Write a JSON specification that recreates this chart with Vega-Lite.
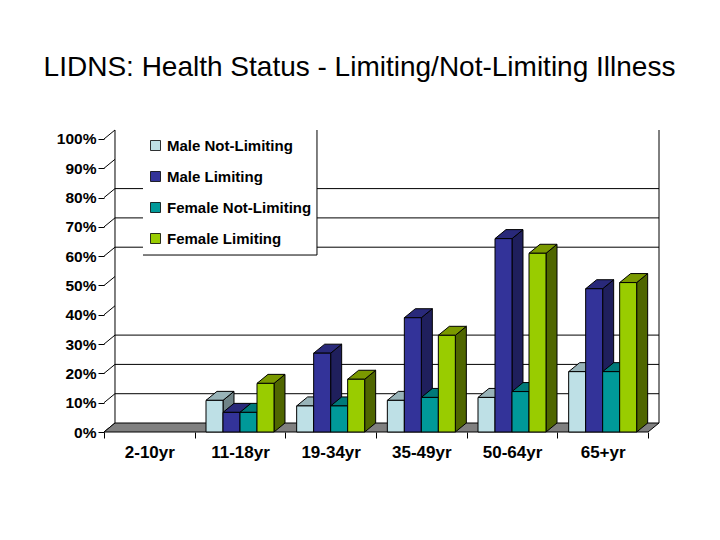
{
  "$schema": "https://vega.github.io/schema/vega-lite/v6.json",
  "width": 555,
  "height": 302,
  "autosize": "none",
  "padding": {"left": 104, "top": 130, "right": 61, "bottom": 108},
  "background": "white",
  "title": {"text": "LIDNS: Health Status - Limiting/Not-Limiting Illness", "font": "Liberation Sans", "fontSize": 28, "fontWeight": "normal", "color": "black", "anchor": "middle", "dx": -22, "offset": 48},
  "config": {"view": {"stroke": null}, "axis": {"labelOverlap": false, "labelBound": false}},
  "datasets": {
    "bars": [
      {"age": "2-10yr", "series": "Male Not-Limiting", "value": null},
      {"age": "2-10yr", "series": "Male Limiting", "value": null},
      {"age": "2-10yr", "series": "Female Not-Limiting", "value": null},
      {"age": "2-10yr", "series": "Female Limiting", "value": null},
      {"age": "11-18yr", "series": "Male Not-Limiting", "value": 10.8},
      {"age": "11-18yr", "series": "Male Limiting", "value": 6.7},
      {"age": "11-18yr", "series": "Female Not-Limiting", "value": 6.7},
      {"age": "11-18yr", "series": "Female Limiting", "value": 16.6},
      {"age": "19-34yr", "series": "Male Not-Limiting", "value": 8.9},
      {"age": "19-34yr", "series": "Male Limiting", "value": 26.9},
      {"age": "19-34yr", "series": "Female Not-Limiting", "value": 8.9},
      {"age": "19-34yr", "series": "Female Limiting", "value": 18},
      {"age": "35-49yr", "series": "Male Not-Limiting", "value": 10.8},
      {"age": "35-49yr", "series": "Male Limiting", "value": 39},
      {"age": "35-49yr", "series": "Female Not-Limiting", "value": 11.8},
      {"age": "35-49yr", "series": "Female Limiting", "value": 33},
      {"age": "50-64yr", "series": "Male Not-Limiting", "value": 11.8},
      {"age": "50-64yr", "series": "Male Limiting", "value": 66},
      {"age": "50-64yr", "series": "Female Not-Limiting", "value": 13.8},
      {"age": "50-64yr", "series": "Female Limiting", "value": 61},
      {"age": "65+yr", "series": "Male Not-Limiting", "value": 20.6},
      {"age": "65+yr", "series": "Male Limiting", "value": 48.9},
      {"age": "65+yr", "series": "Female Not-Limiting", "value": 20.6},
      {"age": "65+yr", "series": "Female Limiting", "value": 51}
    ],
    "levels": [
      {"v": 0}, {"v": 10}, {"v": 20}, {"v": 30}, {"v": 40}, {"v": 50},
      {"v": 60}, {"v": 70}, {"v": 80}, {"v": 90}, {"v": 100}
    ]
  },
  "layer": [
    {
      "data": {"name": "levels"},
      "mark": {"type": "rule", "color": "black", "strokeWidth": 1},
      "transform": [{"filter": "indexof([10,20,30,60,70,80], datum.v) >= 0"}, {"calculate": "datum.v + 3.07", "as": "back"}],
      "encoding": {
        "x": {"datum": 0.1213, "type": "quantitative", "scale": {"domain": [0, 6.1213], "nice": false, "zero": false},
          "axis": {"values": [0, 0.5, 1, 1.5, 2, 2.5, 3, 3.5, 4, 4.5, 5, 5.5, 6], "tickCount": 20, "title": null, "domain": false, "grid": false,
            "tickColor": "black", "tickSize": {"condition": {"test": "datum.value % 1 == 0", "value": 6}, "value": 0},
            "labelExpr": "datum.value % 1 == 0 ? '' : ['2-10yr','11-18yr','19-34yr','35-49yr','50-64yr','65+yr'][floor(datum.value)]",
            "labelFont": "Liberation Sans", "labelFontWeight": "bold", "labelFontSize": 17, "labelColor": "black", "labelAngle": 0, "labelPadding": 12, "labelFlush": false}},
        "x2": {"datum": 6.1213},
        "y": {"field": "back", "type": "quantitative", "scale": {"domain": [0, 103.07], "nice": false},
          "axis": {"values": [0, 10, 20, 30, 40, 50, 60, 70, 80, 90, 100], "tickCount": 20, "title": null, "domain": false, "grid": false,
            "tickColor": "black", "tickSize": 6, "labelExpr": "datum.value + '%'",
            "labelFont": "Liberation Sans", "labelFontWeight": "bold", "labelFontSize": 15.5, "labelColor": "black", "labelPadding": 2}}
      }
    },
    {
      "data": {"name": "levels"},
      "mark": {"type": "rule", "color": "black", "strokeWidth": 1},
      "transform": [{"calculate": "datum.v + 3.07", "as": "back"}],
      "encoding": {
        "x": {"datum": 0, "type": "quantitative"},
        "x2": {"datum": 0.1213},
        "y": {"field": "v", "type": "quantitative"},
        "y2": {"field": "back"}
      }
    },
    {
      "data": {"values": [{"wall": "left", "at": 0.1213}, {"wall": "right", "at": 6.1213}]},
      "mark": {"type": "rule", "color": "black", "strokeWidth": 1},
      "encoding": {
        "x": {"field": "at", "type": "quantitative"},
        "y": {"datum": 3.07, "type": "quantitative"},
        "y2": {"datum": 103.07}
      }
    },
    {
      "data": {"values": [{"plane": "floor"}]},
      "transform": [
        {"calculate": "[0, 1]", "as": "t"},
        {"flatten": ["t"]},
        {"calculate": "datum.t * 3.07", "as": "yy"},
        {"calculate": "datum.t * 0.1213", "as": "xa"},
        {"calculate": "6 + datum.t * 0.1213", "as": "xb"}
      ],
      "mark": {"type": "area", "orient": "horizontal", "fill": "#808080", "stroke": "black", "strokeWidth": 1, "opacity": 1},
      "encoding": {
        "y": {"field": "yy", "type": "quantitative"},
        "x": {"field": "xa", "type": "quantitative", "stack": null},
        "x2": {"field": "xb"}
      }
    },
    {
      "mark": {"type": "rect", "fill": "white"},
      "data": {"values": [{"box": "legend"}]},
      "encoding": {
        "x": {"datum": 0.43, "type": "quantitative"},
        "x2": {"datum": 2.349},
        "y": {"datum": 60.4, "type": "quantitative"},
        "y2": {"datum": 103.07}
      }
    },
    {
      "mark": {"type": "rule", "color": "black", "strokeWidth": 1},
      "data": {"values": [{"box": "legend"}]},
      "encoding": {
        "x": {"datum": 0.43, "type": "quantitative"},
        "x2": {"datum": 2.349},
        "y": {"datum": 60.4, "type": "quantitative"}
      }
    },
    {
      "mark": {"type": "rule", "color": "black", "strokeWidth": 1},
      "data": {"values": [{"box": "legend"}]},
      "encoding": {
        "x": {"datum": 2.349, "type": "quantitative"},
        "y": {"datum": 60.4, "type": "quantitative"},
        "y2": {"datum": 103.07}
      }
    },
    {
      "data": {"name": "bars"},
      "transform": [
        {"filter": "datum.value > 0"},
        {"calculate": "indexof(['2-10yr','11-18yr','19-34yr','35-49yr','50-64yr','65+yr'], datum.age)", "as": "idx"},
        {"calculate": "indexof(['Male Not-Limiting','Male Limiting','Female Not-Limiting','Female Limiting'], datum.series)", "as": "pos"},
        {"calculate": "datum.idx + 0.125 + datum.pos * 0.1875", "as": "x0"},
        {"calculate": "datum.x0 + 0.1875", "as": "x1"},
        {"calculate": "[0, 1]", "as": "t"},
        {"flatten": ["t"]},
        {"calculate": "datum.x1 + datum.t * 0.1213", "as": "sideX"},
        {"calculate": "datum.value + datum.t * 3.07", "as": "sideTop"},
        {"calculate": "datum.t * 3.07", "as": "sideBase"},
        {"calculate": "datum.x0 + datum.t * 0.1213", "as": "topA"}
      ],
      "layer": [
        {
          "transform": [{"filter": "datum.series == 'Male Not-Limiting'"}],
          "layer": [
            {"mark": {"type": "area", "orient": "vertical", "fill": "#6F8487", "stroke": "black", "strokeWidth": 1, "opacity": 1},
              "encoding": {"x": {"field": "sideX", "type": "quantitative"}, "y": {"field": "sideTop", "type": "quantitative", "stack": null}, "y2": {"field": "sideBase"}, "detail": {"field": "age"}}},
            {"mark": {"type": "area", "orient": "horizontal", "fill": "#98B3B8", "stroke": "black", "strokeWidth": 1, "opacity": 1},
              "encoding": {"y": {"field": "sideTop", "type": "quantitative"}, "x": {"field": "topA", "type": "quantitative", "stack": null}, "x2": {"field": "sideX"}, "detail": {"field": "age"}}}
          ]
        },
        {
          "transform": [{"filter": "datum.series == 'Male Not-Limiting' && datum.t == 0"}],
          "mark": {"type": "rect", "stroke": "black", "strokeWidth": 1},
          "encoding": {
            "x": {"field": "x0", "type": "quantitative"},
            "x2": {"field": "x1"},
            "y": {"field": "value", "type": "quantitative"},
            "y2": {"datum": 0},
            "color": {"field": "series", "type": "nominal",
              "scale": {"domain": ["Male Not-Limiting", "Male Limiting", "Female Not-Limiting", "Female Limiting"], "range": ["#BEE0E6", "#333399", "#009999", "#99CC00"]},
              "legend": {"orient": "none", "legendX": 40, "legendY": 4, "title": null, "symbolType": "square", "symbolSize": 100, "symbolStrokeColor": "black", "symbolStrokeWidth": 0.8, "symbolOpacity": 1, "labelFont": "Liberation Sans", "labelFontWeight": "bold", "labelFontSize": 15, "labelColor": "black", "labelLimit": 200, "rowPadding": 15, "labelOffset": 4, "padding": 4}}
          }
        },
        {
          "transform": [{"filter": "datum.series == 'Male Limiting'"}],
          "layer": [
            {"mark": {"type": "area", "orient": "vertical", "fill": "#1F1F5C", "stroke": "black", "strokeWidth": 1, "opacity": 1},
              "encoding": {"x": {"field": "sideX", "type": "quantitative"}, "y": {"field": "sideTop", "type": "quantitative", "stack": null}, "y2": {"field": "sideBase"}, "detail": {"field": "age"}}},
            {"mark": {"type": "area", "orient": "horizontal", "fill": "#29297A", "stroke": "black", "strokeWidth": 1, "opacity": 1},
              "encoding": {"y": {"field": "sideTop", "type": "quantitative"}, "x": {"field": "topA", "type": "quantitative", "stack": null}, "x2": {"field": "sideX"}, "detail": {"field": "age"}}}
          ]
        },
        {
          "transform": [{"filter": "datum.series == 'Male Limiting' && datum.t == 0"}],
          "mark": {"type": "rect", "stroke": "black", "strokeWidth": 1},
          "encoding": {
            "x": {"field": "x0", "type": "quantitative"},
            "x2": {"field": "x1"},
            "y": {"field": "value", "type": "quantitative"},
            "y2": {"datum": 0},
            "color": {"field": "series", "type": "nominal"}
          }
        },
        {
          "transform": [{"filter": "datum.series == 'Female Not-Limiting'"}],
          "layer": [
            {"mark": {"type": "area", "orient": "vertical", "fill": "#005C5C", "stroke": "black", "strokeWidth": 1, "opacity": 1},
              "encoding": {"x": {"field": "sideX", "type": "quantitative"}, "y": {"field": "sideTop", "type": "quantitative", "stack": null}, "y2": {"field": "sideBase"}, "detail": {"field": "age"}}},
            {"mark": {"type": "area", "orient": "horizontal", "fill": "#007A7A", "stroke": "black", "strokeWidth": 1, "opacity": 1},
              "encoding": {"y": {"field": "sideTop", "type": "quantitative"}, "x": {"field": "topA", "type": "quantitative", "stack": null}, "x2": {"field": "sideX"}, "detail": {"field": "age"}}}
          ]
        },
        {
          "transform": [{"filter": "datum.series == 'Female Not-Limiting' && datum.t == 0"}],
          "mark": {"type": "rect", "stroke": "black", "strokeWidth": 1},
          "encoding": {
            "x": {"field": "x0", "type": "quantitative"},
            "x2": {"field": "x1"},
            "y": {"field": "value", "type": "quantitative"},
            "y2": {"datum": 0},
            "color": {"field": "series", "type": "nominal"}
          }
        },
        {
          "transform": [{"filter": "datum.series == 'Female Limiting'"}],
          "layer": [
            {"mark": {"type": "area", "orient": "vertical", "fill": "#4F6600", "stroke": "black", "strokeWidth": 1, "opacity": 1},
              "encoding": {"x": {"field": "sideX", "type": "quantitative"}, "y": {"field": "sideTop", "type": "quantitative", "stack": null}, "y2": {"field": "sideBase"}, "detail": {"field": "age"}}},
            {"mark": {"type": "area", "orient": "horizontal", "fill": "#7A9900", "stroke": "black", "strokeWidth": 1, "opacity": 1},
              "encoding": {"y": {"field": "sideTop", "type": "quantitative"}, "x": {"field": "topA", "type": "quantitative", "stack": null}, "x2": {"field": "sideX"}, "detail": {"field": "age"}}}
          ]
        },
        {
          "transform": [{"filter": "datum.series == 'Female Limiting' && datum.t == 0"}],
          "mark": {"type": "rect", "stroke": "black", "strokeWidth": 1},
          "encoding": {
            "x": {"field": "x0", "type": "quantitative"},
            "x2": {"field": "x1"},
            "y": {"field": "value", "type": "quantitative"},
            "y2": {"datum": 0},
            "color": {"field": "series", "type": "nominal"}
          }
        }
      ]
    }
  ]
}
